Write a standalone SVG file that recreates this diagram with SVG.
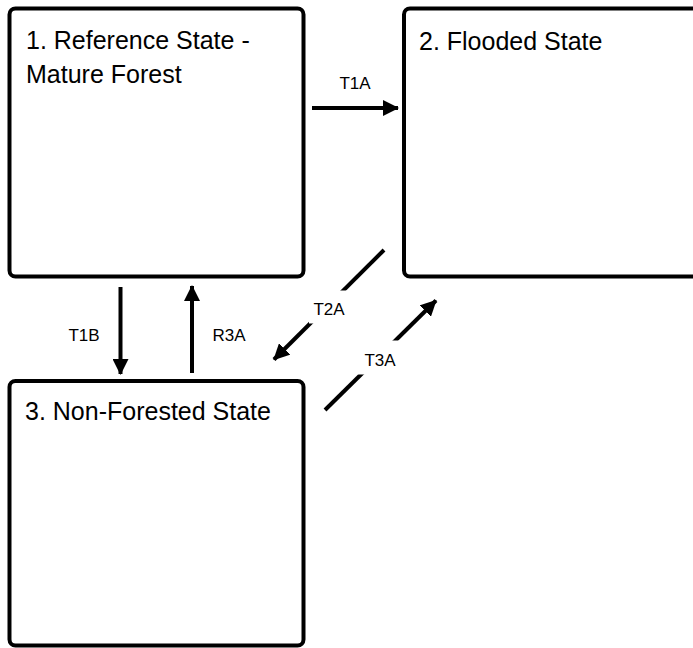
<svg xmlns="http://www.w3.org/2000/svg" width="693" height="648" viewBox="0 0 693 648">
<style>
.box{fill:#fff;stroke:#000;stroke-width:4}
.title{font-family:"Liberation Sans",Arial,sans-serif;font-size:25px;fill:#000}
.lbl{font-family:"Liberation Sans",Arial,sans-serif;font-size:17px;fill:#000;text-anchor:middle}
.conn{stroke:#000;stroke-width:4;fill:none;marker-end:url(#ah)}
.bg{fill:#fff}
</style>
<defs>
<marker id="ah" markerUnits="userSpaceOnUse" markerWidth="16" markerHeight="16" viewBox="0 0 16 16" refX="15" refY="8" orient="auto">
<path d="M0,0 L16,8 L0,16 Z" fill="#000"/>
</marker>
</defs>
<rect width="693" height="648" fill="#fff"/>
<g id="node1">
<rect class="box" x="9.5" y="8.5" width="294" height="268" rx="6"/>
<text class="title" x="26" y="49">1. Reference State -</text>
<text class="title" x="26" y="83">Mature Forest</text>
</g>
<g id="node2">
<rect class="box" x="404" y="8.5" width="320" height="268" rx="6"/>
<text class="title" x="419" y="50">2. Flooded State</text>
</g>
<g id="node3">
<rect class="box" x="9.5" y="381" width="294" height="264.5" rx="6"/>
<text class="title" x="25" y="420">3. Non-Forested State</text>
</g>
<g id="connectors">
<line class="conn" x1="312" y1="108" x2="398" y2="108"/>
<line class="conn" x1="120.5" y1="287" x2="120.5" y2="374"/>
<line class="conn" x1="192" y1="373" x2="192" y2="286"/>
<line class="conn" x1="384" y1="250" x2="274" y2="359.5"/>
<line class="conn" x1="325" y1="410" x2="436" y2="300.5"/>
<rect class="bg" x="309" y="290.5" width="39" height="33"/>
<rect class="bg" x="358" y="340.5" width="41" height="34"/>
<text class="lbl" x="355" y="89">T1A</text>
<text class="lbl" x="84" y="341">T1B</text>
<text class="lbl" x="229" y="341">R3A</text>
<text class="lbl" x="329" y="315">T2A</text>
<text class="lbl" x="380" y="366">T3A</text>
</g>
</svg>
